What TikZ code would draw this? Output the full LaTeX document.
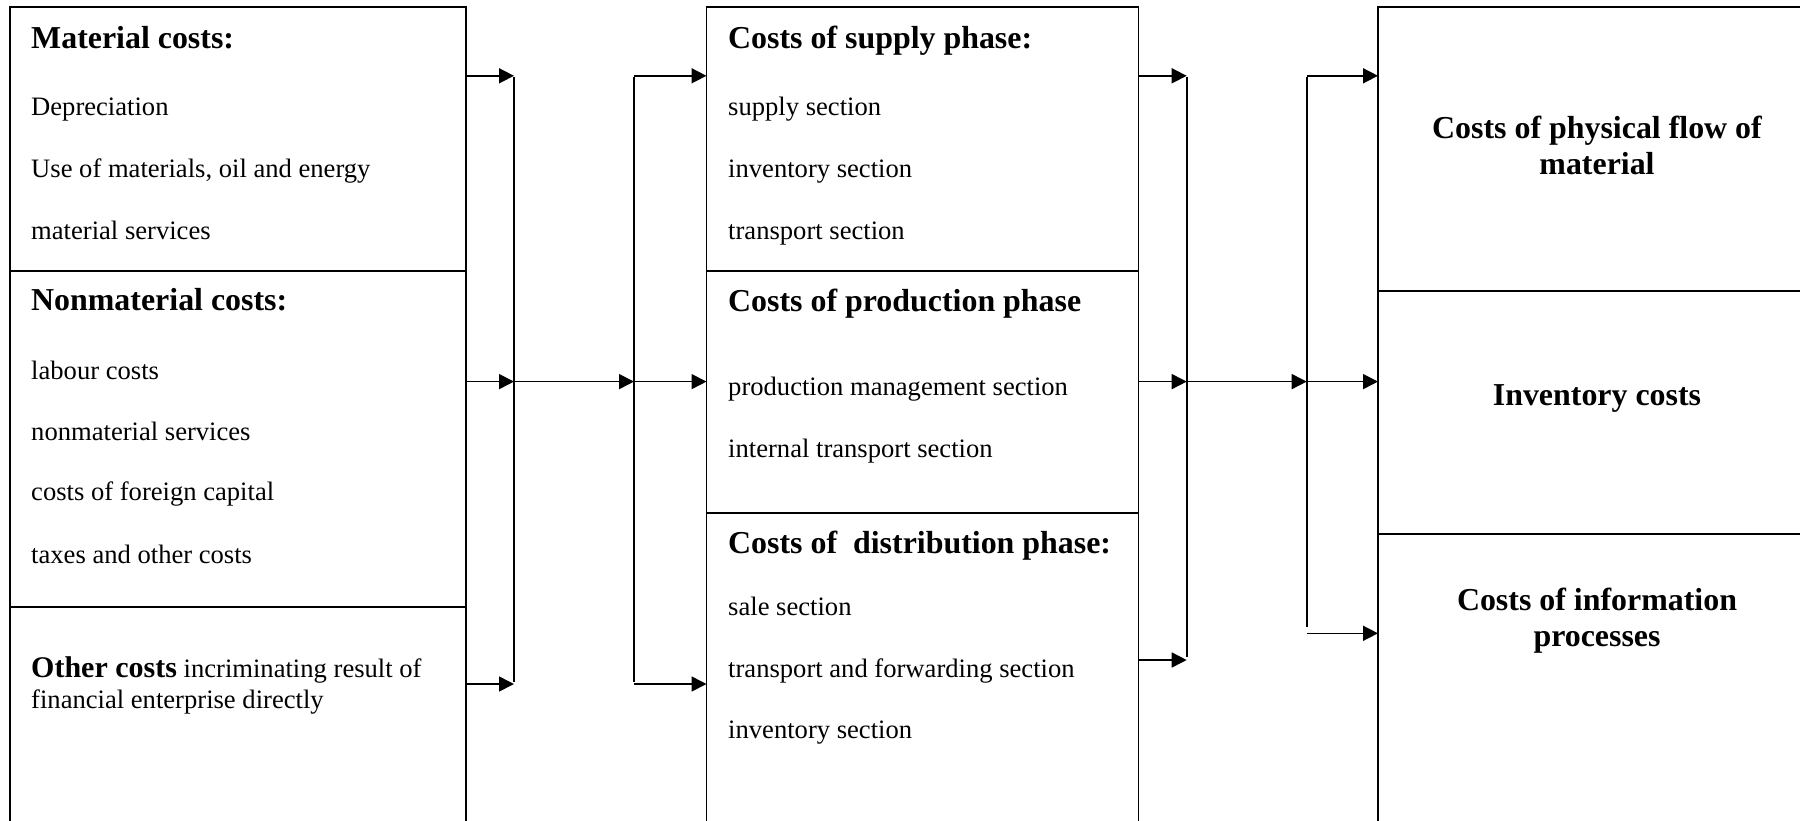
\documentclass[tikz,border=0pt]{standalone}
\usepackage{fontspec}
\setmainfont{Liberation Serif}
\usetikzlibrary{arrows.meta}
\begin{document}
\begin{tikzpicture}[x=1pt,y=-1pt,
  sect/.style={draw, line width=1.8pt, anchor=north west, inner sep=0pt, outer sep=0pt},
  head/.style={anchor=base west, inner sep=0pt, font=\fontsize{31.9}{36}\selectfont\bfseries},
  item/.style={anchor=base west, inner sep=0pt, font=\fontsize{26.6}{31}\selectfont},
  title/.style={anchor=base, inner sep=0pt, font=\fontsize{31.9}{35.5}\selectfont\bfseries},
  arr/.style={line width=1.6pt, -{Triangle[length=15pt,width=15pt]}},
  bus/.style={line width=1.6pt}]
\useasboundingbox (0,0) rectangle (1800,820);

% ---- cost types (left column)
\node[sect, minimum width=456.4pt, minimum height=264pt] (mat)    at (9.6,7)   {};
\node[sect, minimum width=456.4pt, minimum height=336pt] (nonmat) at (9.6,271) {};
\node[sect, minimum width=456.4pt, minimum height=240pt] (other)  at (9.6,607) {};

\node[head] (t1)  at (31,48)  {Material costs:};
\node[item] (t2)  at (31,115) {Depreciation};
\node[item] (t3)  at (31,177) {Use of materials, oil and energy};
\node[item] (t4)  at (31,239) {material services};
\node[head] (t5)  at (31,310) {Nonmaterial costs:};
\node[item] (t6)  at (31,379) {labour costs};
\node[item] (t7)  at (31,440) {nonmaterial services};
\node[item] (t8)  at (31,500) {costs of foreign capital};
\node[item] (t9)  at (31,563) {taxes and other costs};
\node[item] (t10) at (31,677) {\begin{tabular}[t]{@{}l@{}}{\fontsize{30}{31}\selectfont\bfseries Other costs} incriminating result of\\financial enterprise directly\end{tabular}};

% ---- phases (middle column)
\node[sect, minimum width=432pt, minimum height=264pt] (supply) at (706.5,7)   {};
\node[sect, minimum width=432pt, minimum height=242pt] (prod)   at (706.5,271) {};
\node[sect, minimum width=432pt, minimum height=330pt] (dist)   at (706.5,513) {};

\node[head] (m1)  at (728,48)  {Costs of supply phase:};
\node[item] (m2)  at (728,115) {supply section};
\node[item] (m3)  at (728,177) {inventory section};
\node[item] (m4)  at (728,239) {transport section};
\node[head] (m5)  at (728,311) {Costs of production phase};
\node[item] (m6)  at (728,395) {production management section};
\node[item] (m7)  at (728,457) {internal transport section};
\node[head] (m8)  at (728,553) {Costs of~ distribution phase:};
\node[item] (m9)  at (728,615) {sale section};
\node[item] (m10) at (728,677) {transport and forwarding section};
\node[item] (m11) at (728,738) {inventory section};

% ---- logistics cost groups (right column)
\node[sect, minimum width=438pt, minimum height=284pt] (phys) at (1378,7)   {};
\node[sect, minimum width=438pt, minimum height=243pt] (inv)  at (1378,291) {};
\node[sect, minimum width=438pt, minimum height=310pt] (info) at (1378,534) {};

\node[title] (r1) at (1597,138.5) {\begin{tabular}[t]{@{}c@{}}Costs of physical flow of\\material\end{tabular}};
\node[title] (r2) at (1597,405)   {Inventory costs};
\node[title] (r3) at (1597,610.6) {\begin{tabular}[t]{@{}c@{}}Costs of information\\processes\end{tabular}};

% ---- collecting lines and their junction points
\coordinate (a1) at (514,75.8);
\coordinate (a2) at (514,381.6);
\coordinate (a3) at (514,684);
\coordinate (b1) at (634,75.8);
\coordinate (b2) at (634,381.6);
\coordinate (b3) at (634,684);
\coordinate (c1) at (1186.7,75.8);
\coordinate (c2) at (1186.7,381.6);
\coordinate (c3) at (1186.7,660);
\coordinate (d1) at (1306.7,75.8);
\coordinate (d2) at (1306.7,381.6);
\coordinate (d3) at (1306.7,633.3);

\draw[bus] ([yshift=-1pt]a1) -- ([yshift=2pt]a3);
\draw[bus] ([yshift=-1pt]b1) -- ([yshift=2pt]b3);
\draw[bus] ([yshift=-1pt]c1) -- ([yshift=3pt]c3);
\draw[bus] ([yshift=-1pt]d1) -- ([yshift=6pt]d3);

% cost types into the first collector
\draw[arr] (a1 -| mat.east)    -- (a1);
\draw[arr] (a2 -| nonmat.east) -- (a2);
\draw[arr] (a3 -| other.east)  -- (a3);
\draw[arr] (a2) -- (b2);
% first distributor into the phases
\draw[arr] (b1) -- (b1 -| supply.west);
\draw[arr] (b2) -- (b2 -| prod.west);
\draw[arr] (b3) -- (b3 -| dist.west);

% phases into the second collector
\draw[arr] (c1 -| supply.east) -- (c1);
\draw[arr] (c2 -| prod.east)   -- (c2);
\draw[arr] (c3 -| dist.east)   -- (c3);
\draw[arr] (c2) -- (d2);
% second distributor into the cost groups
\draw[arr] (d1) -- (d1 -| phys.west);
\draw[arr] (d2) -- (d2 -| inv.west);
\draw[arr] (d3) -- (d3 -| info.west);
\end{tikzpicture}
\end{document}
